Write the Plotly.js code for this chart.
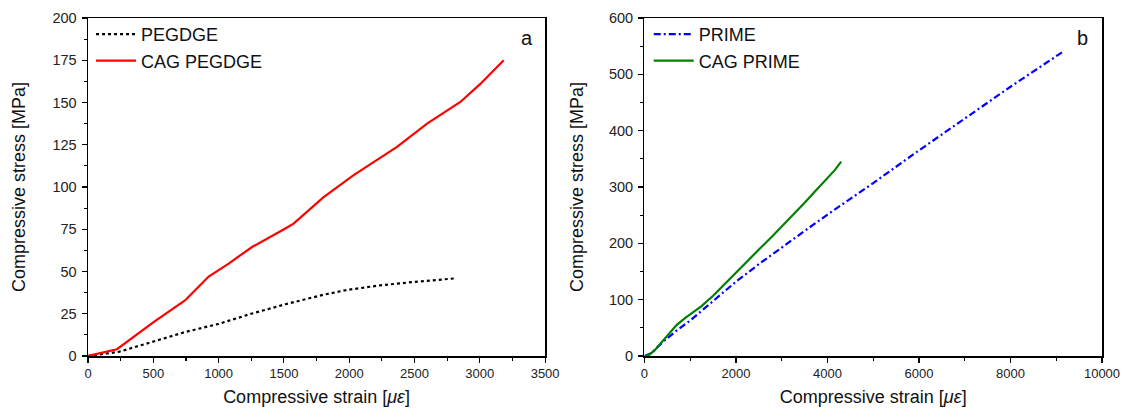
<!DOCTYPE html>
<html>
<head>
<meta charset="utf-8">
<script src="https://cdn.plot.ly/plotly-3.0.1.min.js"></script>
<style>html,body{margin:0;padding:0;background:#fff;}#chart{width:1128px;height:417px;}</style>
</head>
<body>
<div id="chart"></div>
<script>
// Panel a: PEGDGE
const pegdgeStrain = [0, 234, 490, 745, 1000, 1250, 1511, 1626, 1800, 1983, 2238, 2494, 2820];
const pegdgeStress = [0, 2.4, 8.3, 14.2, 19, 25, 30.6, 32.8, 36.2, 39.1, 41.8, 43.8, 46];
const cagPegdgeStrain = [0, 222, 502, 745, 847, 924, 1077, 1256, 1511, 1574, 1804, 2034, 2366, 2596, 2851, 3004, 3183];
const cagPegdgeStress = [0, 4, 20, 33, 41, 47, 54.7, 64.5, 75.4, 78.3, 94, 107, 123.7, 137.5, 150.3, 161, 175];

// Panel b: PRIME
const primeStrain = [0, 150, 400, 700, 1000, 1500, 2000, 2500, 3000, 3500, 4000, 4500, 5000, 6000, 7000, 8000, 9125];
const primeStress = [0, 5, 25, 45, 63, 98, 132, 163, 193, 222, 251, 279, 307, 365, 422, 478, 539];
const cagPrimeStrain = [0, 100, 220, 450, 700, 900, 1060, 1240, 1500, 1680, 1860, 2050, 2300, 2550, 2810, 3100, 3360, 3500, 3690, 3940, 4150, 4300];
const cagPrimeStress = [0, 2, 10, 32, 55, 68, 77, 88, 107, 122, 137, 152, 172, 193, 214, 238, 260, 272, 289, 311, 329, 345];

const seriesNames = ['PEGDGE', 'CAG PEGDGE', 'PRIME', 'CAG PRIME'];
const panelLabels = ['a', 'b'];
const xTitle = 'Compressive strain [<i>με</i>]';
const yTitle = 'Compressive stress [MPa]';

const FONT = 'Liberation Sans, Arial, sans-serif';

const traces = [
  {x: pegdgeStrain, y: pegdgeStress, name: seriesNames[0], mode: 'lines', xaxis: 'x', yaxis: 'y', legend: 'legend',
   line: {color: '#000000', width: 2.2, dash: 'dot'}},
  {x: cagPegdgeStrain, y: cagPegdgeStress, name: seriesNames[1], mode: 'lines', xaxis: 'x', yaxis: 'y', legend: 'legend',
   line: {color: '#ff0000', width: 2.2}},
  {x: primeStrain, y: primeStress, name: seriesNames[2], mode: 'lines', xaxis: 'x2', yaxis: 'y2', legend: 'legend2',
   line: {color: '#0000ff', width: 2.2, dash: '7px,3px,2px,3px'}},
  {x: cagPrimeStrain, y: cagPrimeStress, name: seriesNames[3], mode: 'lines', xaxis: 'x2', yaxis: 'y2', legend: 'legend2',
   line: {color: '#008000', width: 2.2}}
];

function axisBase(extra) {
  return Object.assign({
    showline: true, linecolor: '#000', linewidth: 1.5, mirror: true,
    ticks: 'outside', ticklen: 5, tickwidth: 1.2, tickcolor: '#000',
    showgrid: false, zeroline: false, automargin: false,
    tickformat: 'd',
  }, extra);
}
const xTickFont = {family: FONT, size: 13, color: '#222'};
const yTickFont = {family: FONT, size: 14.5, color: '#222'};
const titleFont = {family: FONT, size: 18, color: '#111'};

const layout = {
  width: 1128, height: 417,
  margin: {l: 88, r: 26, t: 18, b: 61},
  paper_bgcolor: '#fff', plot_bgcolor: '#fff',
  font: {family: FONT, color: '#222'},
  showlegend: true,
  xaxis: axisBase({domain: [0, 0.4508], range: [0, 3500], anchor: 'y', dtick: 500, tick0: 0, tickfont: xTickFont,
    minor: {dtick: 250, ticks: 'outside', ticklen: 3, tickcolor: '#000', showgrid: false},
    title: {text: xTitle, font: titleFont, standoff: 10}}),
  yaxis: axisBase({domain: [0, 1], range: [0, 200], anchor: 'x', dtick: 25, tick0: 0, tickfont: yTickFont, ticklabelstandoff: 2,
    minor: {dtick: 12.5, ticks: 'outside', ticklen: 3, tickcolor: '#000', showgrid: false},
    title: {text: yTitle, font: titleFont, standoff: 22}}),
  xaxis2: axisBase({domain: [0.5488, 1], range: [0, 10000], anchor: 'y2', dtick: 2000, tick0: 0, tickfont: xTickFont,
    minor: {dtick: 1000, ticks: 'outside', ticklen: 3, tickcolor: '#000', showgrid: false},
    title: {text: xTitle, font: titleFont, standoff: 10}}),
  yaxis2: axisBase({domain: [0, 1], range: [0, 600], anchor: 'x2', dtick: 100, tick0: 0, tickfont: yTickFont, ticklabelstandoff: 2,
    minor: {dtick: 50, ticks: 'outside', ticklen: 3, tickcolor: '#000', showgrid: false},
    title: {text: yTitle, font: titleFont, standoff: 20}}),
  legend: {x: 0.003, y: 1.006, xanchor: 'left', yanchor: 'top', bgcolor: 'rgba(0,0,0,0)', itemwidth: 40,
    font: {family: FONT, size: 18, color: '#111'}, tracegroupgap: 0},
  legend2: {x: 0.553, y: 1.006, xanchor: 'left', yanchor: 'top', bgcolor: 'rgba(0,0,0,0)', itemwidth: 40,
    font: {family: FONT, size: 18, color: '#111'}, tracegroupgap: 0},
  annotations: [
    {text: panelLabels[0], xref: 'paper', yref: 'paper', x: 0.433, y: 0.941, xanchor: 'center', yanchor: 'middle',
     showarrow: false, font: {family: FONT, size: 20, color: '#111'}},
    {text: panelLabels[1], xref: 'paper', yref: 'paper', x: 0.9806, y: 0.941, xanchor: 'center', yanchor: 'middle',
     showarrow: false, font: {family: FONT, size: 20, color: '#111'}}
  ]
};

Plotly.newPlot('chart', traces, layout, {staticPlot: true, displayModeBar: false});
</script>
</body>
</html>
